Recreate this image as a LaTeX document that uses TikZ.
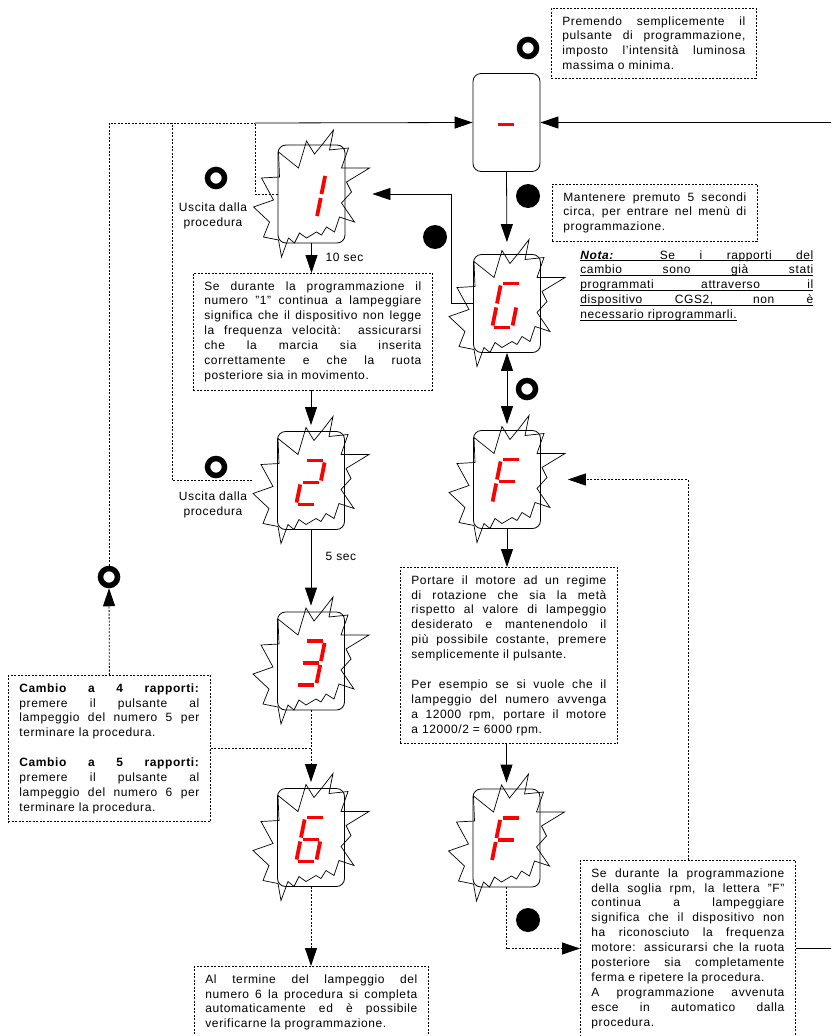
\documentclass[tikz,border=0pt]{standalone}
\usepackage{fontspec}
\setmainfont{Liberation Sans}[LetterSpace=5]
\usetikzlibrary{arrows.meta,positioning,calc}

% jagged flash round a display
\newcommand{\burst}[1]{%
  \draw[spiky,shift={(#1)}] (-33,-42) -- (-13,-26) -- (-5,-53) -- (3,-40) -- (12,-51) -- (22,-64)
    -- (18,-44) -- (37,-46) -- (30,-26) -- (58,-26) -- (35,-12) -- (40,-2) -- (30,9) -- (43,28)
    -- (28,23) -- (23,38) -- (15,33) -- (10,41) -- (5,38) -- (-5,44) -- (-12,39) -- (-17,49)
    -- (-23,44) -- (-30,63) -- (-33,46) -- (-48,43) -- (-42,28) -- (-58,13) -- (-38,6)
    -- (-50,-16) -- (-32,-17) -- cycle;}
% red seven segment digit
\newcommand{\segs}[2]{%
  \begin{scope}[shift={(#1)},xslant=0.2]
    \coordinate (TL) at (-10,-20); \coordinate (TR) at (10,-20);
    \coordinate (ML) at (-10,2);   \coordinate (MR) at (10,2);
    \coordinate (BL) at (-10,24);  \coordinate (BR) at (10,24);
    \foreach \p/\q in {#2} \draw[seg7] (\p) -- (\q);
  \end{scope}}
% underlined lines of the note
\newcommand{\ulbox}[1]{\rlap{\rule[-2pt]{233pt}{0.7pt}}\hbox to 233pt{#1}}
\newcommand{\ullast}[1]{\setbox0\hbox{#1}\rlap{\rule[-2pt]{\wd0}{0.7pt}}\box0}

\begin{document}
\begin{tikzpicture}[x=1pt,y=-1pt,>={Triangle[length=18pt,width=12pt]},line width=0.8pt,
  font=\fontsize{12}{14.9}\selectfont,
  disp/.style={draw,rounded corners=8pt,minimum width=67pt,minimum height=98pt,inner sep=0pt},
  spiky/.style={line width=0.7pt,line join=miter},
  seg7/.style={draw=red,line width=3.8pt,shorten >=2pt,shorten <=2pt},
  dots/.style={dash pattern=on 2pt off 1.5pt},
  note/.style={draw,dots,align=justify,inner xsep=11pt,inner ysep=8pt,anchor=north west},
  ring/.style={circle,draw,line width=5.5pt,minimum size=17pt,inner sep=0pt},
  blob/.style={circle,fill,minimum size=24pt,inner sep=0pt},
  lab/.style={align=center},
  into/.style={shorten >=6pt}]
\useasboundingbox (0,0) rectangle (831,1036);
\clip (0,0) rectangle (831,1036);

% displays
\node[disp] (top) at (506.5,122.5) {};
\node[disp] (s1) at (311.5,194) {};
\node[disp] (sG) at (507,303.5) {};
\node[disp] (s2) at (311,480.5) {};
\node[disp] (sF1) at (507,479.5) {};
\node[disp] (s3) at (311,661) {};
\node[disp] (s6) at (311,837.5) {};
\node[disp] (sF2) at (506.5,838) {};
\foreach \n in {s1,sG,s2,sF1,s3,s6,sF2} \burst{\n};

\segs{top}{ML/MR}
\segs{s1}{TR/MR,MR/BR}
\segs{sG}{TL/TR,TL/ML,ML/BL,BL/BR,MR/BR}
\segs{s2}{TL/TR,TR/MR,ML/MR,ML/BL,BL/BR}
\segs{sF1}{TL/TR,TL/ML,ML/MR,ML/BL}
\segs{s3}{TL/TR,TR/MR,ML/MR,MR/BR,BL/BR}
\segs{s6}{TL/TR,TL/ML,ML/MR,ML/BL,BL/BR,MR/BR}
\segs{sF2}{TL/TR,TL/ML,ML/MR,ML/BL}

% notes
\node[note,text width=183pt] (prem) at (551,8) {Premendo semplicemente il\linebreak
  pulsante di programmazione,\linebreak imposto l'intensità luminosa\linebreak massima o minima.};
\node[note,text width=183pt] (maint) at (552,184) {Mantenere premuto 5 secondi\linebreak
  circa, per entrare nel menù di\linebreak programmazione.};
\node[note,text width=217pt] (warn1) at (193,273) {Se durante la programmazione il\linebreak
  numero "1" continua a lampeggiare\linebreak significa che il dispositivo non legge\linebreak
  la frequenza velocità: assicurarsi\linebreak che la marcia sia inserita\linebreak
  correttamente e che la ruota\linebreak posteriore sia in movimento.};
\node[anchor=north west,align=left,inner sep=0pt] (nota) at (580,250)
  {\ulbox{{\bfseries\itshape Nota:} Se i rapporti del}\\ \ulbox{cambio sono già stati}\\
  \ulbox{programmati attraverso il}\\ \ulbox{dispositivo CGS2, non è}\\
  \ullast{necessario riprogrammarli.}};
\node[note,text width=195pt] (portare) at (400,567) {Portare il motore ad un regime\linebreak
  di rotazione che sia la metà\linebreak rispetto al valore di lampeggio\linebreak
  desiderato e mantenendolo il\linebreak più possibile costante, premere\linebreak
  semplicemente il pulsante.\\[14.9pt]
  Per esempio se si vuole che il\linebreak lampeggio del numero avvenga\linebreak
  a 12000 rpm, portare il motore\linebreak a 12000/2 = 6000 rpm.};
\node[note,text width=180pt] (cambio) at (8,675) {\textbf{Cambio a 4 rapporti:}\linebreak
  premere il pulsante al\linebreak lampeggio del numero 5 per\linebreak terminare la procedura.\\[14.9pt]
  \textbf{Cambio a 5 rapporti:}\linebreak premere il pulsante al\linebreak
  lampeggio del numero 6 per\linebreak terminare la procedura.};
\node[note,text width=212pt] (termine) at (194,966) {Al termine del lampeggio del\linebreak
  numero 6 la procedura si completa\linebreak automaticamente ed è possibile\linebreak
  verificarne la programmazione.};
\node[note,text width=193pt] (errF) at (580,860) {Se durante la programmazione\linebreak
  della soglia rpm, la lettera "F"\linebreak continua a lampeggiare\linebreak
  significa che il dispositivo non\linebreak ha riconosciuto la frequenza\linebreak
  motore: assicurarsi che la ruota\linebreak posteriore sia completamente\linebreak
  ferma e ripetere la procedura.\\ A programmazione avvenuta\linebreak
  esce in automatico dalla\linebreak procedura.};

% button marks
\node[ring] (ring0) at (528,48) {};
\node[blob] (blob1) at (528,196) {};
\node[blob] (blob2) at (435,237) {};
\node[ring] (ring1) at (216,178) {};
\node[ring] (ring3) at (527,389) {};
\node[ring] (ring2) at (216,467) {};
\node[ring] (ring5) at (109,577) {};
\node[blob] (blob3) at (528,920) {};

\node[lab,below=9.5pt of ring1,xshift=-3pt] (exit1) {Uscita dalla\\procedura};
\node[lab,below=9.5pt of ring2,xshift=-3pt] (exit2) {Uscita dalla\\procedura};
\node[anchor=west] (t10) at (322,257) {10 sec};
\node[anchor=west] (t5) at (322,556) {5 sec};

% connectors
\coordinate (join) at (255,123);
\coordinate (busL) at (172,123);
\draw[->] (join) -- (top.west);
\draw[dots] (s1.west) -| (join);
\draw[dots] (ring5.north) |- (join);
\draw[dots] ([xshift=-25pt]s2.west) -| (busL);
\draw[->] (errF.east) -- ++(50,0) |- (top.east);
\draw[->,shorten >=12pt] (top.south) -- (sG.north);
\draw[->,shorten >=27pt] (sG.west) -- ++(-22,0) |- (s1.east);
\draw[<->,into] (sG.south) -- (sF1.north);
\draw[->] (s1.south) -- (s1.south |- warn1.north);
\draw[->,into] (s2.north |- warn1.south) -- (s2.north);
\draw[->,into] (s2.south) -- (s3.north);
\draw[dots,->,into] (s3.south) -- (s6.north);
\draw[dots] (cambio.east) -- (cambio.east -| s3.south);
\draw[dots,->] (cambio.north) -- (ring5.south);
\draw[dots,->] (s6.south) -- (s6.south |- termine.north);
\draw[->] (sF1.south) -- (sF1.south |- portare.north);
\draw[->,into] (sF2.north |- portare.south) -- (sF2.north);
\draw[dots,->,shorten >=27pt] (errF.north) |- (sF1.east);
\draw[dots,->] (sF2.south) |- (errF.west);
\end{tikzpicture}
\end{document}
